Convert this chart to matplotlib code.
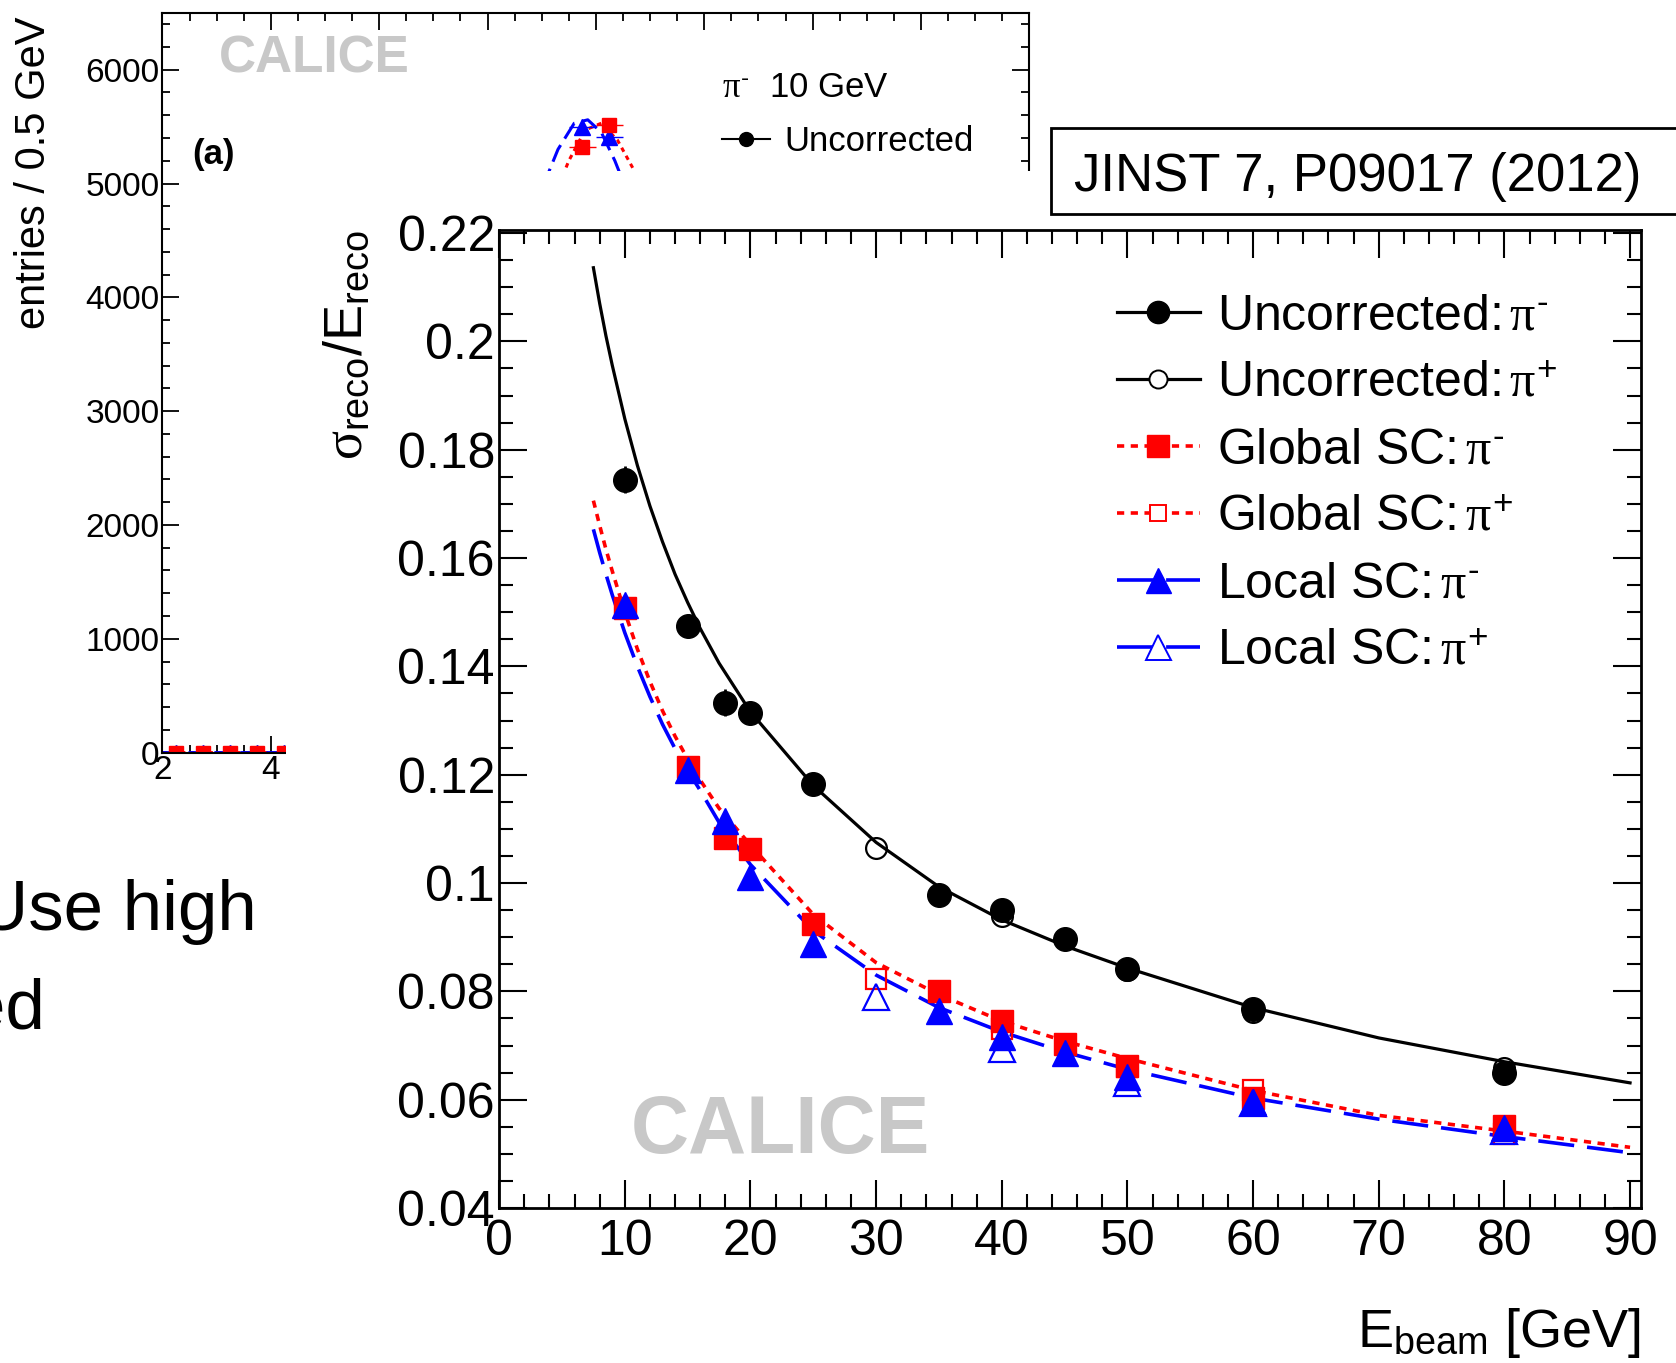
import matplotlib
matplotlib.use('Agg')
import matplotlib.pyplot as plt
from matplotlib.lines import Line2D
from matplotlib.patches import Rectangle
from matplotlib.ticker import MultipleLocator, FuncFormatter

plt.rcParams['font.family'] = ['Liberation Sans', 'DejaVu Sans']
plt.rcParams['mathtext.fontset'] = 'custom'
plt.rcParams['mathtext.rm'] = 'Liberation Sans'
plt.rcParams['mathtext.it'] = 'Liberation Serif'
plt.rcParams['mathtext.bf'] = 'Liberation Sans:bold'

# ---- main chart: resolution vs beam energy ----
energy = [10, 15, 18, 20, 25, 35, 40, 45, 50, 60, 80]
unc_neg = [0.1745, 0.1475, 0.1333, 0.1313, 0.1183, 0.0978, 0.0950, 0.0897, 0.0842, 0.0767, 0.0650]
unc_neg_err = [0.0025, 0.0020, 0.0025, 0.0012, 0.0010, 0.0010, 0.0010, 0.0010, 0.0010, 0.0010, 0.0010]
glob_neg = [0.1508, 0.1215, 0.1084, 0.1063, 0.0925, 0.0800, 0.0745, 0.0702, 0.0662, 0.0603, 0.0552]
loc_neg = [0.1514, 0.1209, 0.1114, 0.1011, 0.0887, 0.0763, 0.0716, 0.0686, 0.0641, 0.0595, 0.0548]

energy_pos = [30, 40, 50, 60, 80]
unc_pos = [0.1065, 0.0940, 0.0840, 0.0762, 0.0658]
glob_pos = [0.0822, 0.0730, 0.0660, 0.0617, 0.0536]
loc_pos = [0.0790, 0.0694, 0.0631, 0.0593, 0.0542]

# fit curves
fit_e = [7.5, 8, 8.5, 9, 10, 11, 12, 13, 14, 15, 16, 17.5, 20, 25, 30, 35, 40, 45, 50, 60, 70, 80, 90]
fit_unc = [0.2136, 0.2070, 0.2010, 0.1956, 0.1857, 0.1771, 0.1696, 0.1630, 0.1570, 0.1518, 0.1470,
           0.1406, 0.1316, 0.1180, 0.1075, 0.0993, 0.0932, 0.0884, 0.0843, 0.0770, 0.0714, 0.0670,
           0.0631]
fit_glob = [0.1706, 0.1660, 0.1616, 0.1576, 0.1500, 0.1432, 0.1372, 0.1318, 0.1271, 0.1229, 0.1190,
            0.1138, 0.1070, 0.0942, 0.0853, 0.0794, 0.0745, 0.0708, 0.0676, 0.0617, 0.0571, 0.0542,
            0.0512]
fit_loc = [0.1653, 0.1610, 0.1570, 0.1532, 0.1462, 0.1400, 0.1344, 0.1293, 0.1248, 0.1208, 0.1171,
           0.1112, 0.1034, 0.0912, 0.0830, 0.0770, 0.0725, 0.0688, 0.0656, 0.0603, 0.0564, 0.0532,
           0.0502]

MINUS = '\u2010'
legend_labels = [r'Uncorrected:$\,\pi^{%s}$' % MINUS, r'Uncorrected:$\,\pi^{+}$',
                 r'Global SC:$\,\pi^{%s}$' % MINUS, r'Global SC:$\,\pi^{+}$',
                 r'Local SC:$\,\pi^{%s}$' % MINUS, r'Local SC:$\,\pi^{+}$']

# ---- background chart (partly hidden): 10 GeV energy distribution ----
bg_bins = [2.25, 2.75, 3.25, 3.75, 4.25, 9.75, 10.25]
bg_glob = [0, 0, 0, 0, 0, 5325, 5510]
bg_loc = [0, 0, 0, 0, 0, 5500, 5410]
bg_unc = [0, 0, 0, 0, 0]
bg_fit_glob_x = [2.0, 4.5, 8.9, 9.2, 9.5, 9.8, 10.1, 10.4, 10.7, 11.0]
bg_fit_glob_y = [0, 0, 4500, 4850, 5200, 5470, 5530, 5380, 5120, 4800]
bg_fit_loc_x = [2.0, 4.5, 8.7, 9.0, 9.3, 9.6, 9.85, 10.1, 10.35, 10.6, 10.9]
bg_fit_loc_y = [0, 0, 4550, 4950, 5300, 5530, 5560, 5450, 5200, 4900, 4500]

RED = '#ff0000'
BLUE = '#0000ff'
GREY = '#c8c8c8'

fig = plt.figure(figsize=(16.76, 13.63), dpi=100)

# background chart
axb = fig.add_axes([0.09694, 0.44784, 0.51722, 0.54275])
axb.set_zorder(0)
axb.set_xlim(2, 18)
axb.set_ylim(0, 6500)
axb.plot(bg_fit_glob_x, bg_fit_glob_y, color=RED, lw=2.2, dashes=(1.5, 1.5))
axb.plot(bg_fit_loc_x, bg_fit_loc_y, color=BLUE, lw=2.2, dashes=(6, 2.5))
axb.plot(bg_bins[:5], bg_unc, 'o', color='k', ms=10)
axb.errorbar(bg_bins, bg_loc, xerr=0.25, fmt='^', color=BLUE, ms=11, elinewidth=1, capsize=0)
axb.errorbar(bg_bins, bg_glob, xerr=0.25, fmt='s', color=RED, ms=10, elinewidth=1, capsize=0)
axb.xaxis.set_major_locator(MultipleLocator(2))
axb.xaxis.set_minor_locator(MultipleLocator(0.5))
axb.yaxis.set_major_locator(MultipleLocator(1000))
axb.yaxis.set_minor_locator(MultipleLocator(200))
axb.tick_params(which='both', direction='in', top=True, right=True, width=1.3, labelsize=24, pad=2)
axb.tick_params(which='major', length=12)
axb.tick_params(which='minor', length=6)
for s in axb.spines.values():
    s.set_linewidth(1.5)
axb.text(0.0654, 0.938, 'CALICE', transform=axb.transAxes, color=GREY, fontsize=37,
         fontweight='bold', ha='left', va='center')
axb.text(0.0345, 0.808, '(a)', transform=axb.transAxes, fontsize=25, fontweight='bold',
         ha='left', va='center')
bg_leg = axb.legend(handles=[Line2D([], [], color='k', lw=1.5, marker='o', ms=10)],
                    labels=['Uncorrected'], title=r'$\pi^{%s}$  10 GeV' % MINUS, alignment='left',
                    frameon=False, loc='upper left', bbox_to_anchor=(0.645, 0.921),
                    fontsize=25, title_fontsize=25, handlelength=1.4, handletextpad=0.4,
                    labelspacing=0.6, borderpad=0, borderaxespad=0)
fig.text(0.0204, 0.9882, 'entries / 0.5 GeV', rotation=90, ha='center', va='top', fontsize=30)

# white sheet carrying the main chart
fig.add_artist(Rectangle((0.1709, 0), 0.9, 0.8745, transform=fig.transFigure,
                         facecolor='white', edgecolor='none', zorder=1))

# slide text left of the chart
fig.text(0.1531, 0.3176, 'Use high', ha='right', va='baseline', fontsize=51)
fig.text(0.0268, 0.2455, 'ed', ha='right', va='baseline', fontsize=51)

# main chart
ax = fig.add_axes([0.29783, 0.11373, 0.68112, 0.71765])
ax.set_zorder(2)
ax.set_xlim(0, 90.85)
ax.set_ylim(0.04, 0.2206)

ax.plot(fit_e, fit_unc, color='k', lw=2.3, zorder=2)
ax.plot(fit_e, fit_glob, color=RED, lw=2.6, dashes=(2.0, 1.8), zorder=2)
ax.plot(fit_e, fit_loc, color=BLUE, lw=2.6, dashes=(10, 3.6), zorder=2)

ax.plot(energy_pos, unc_pos, 'o', mfc='none', mec='k', mew=1.6, ms=15, zorder=3)
ax.errorbar(energy, unc_neg, yerr=unc_neg_err, fmt='o', color='k', ms=17, elinewidth=2,
            capsize=0, zorder=4)
ax.plot(energy, glob_neg, 's', color=RED, ms=16, zorder=5)
ax.plot(energy_pos, glob_pos, 's', mfc='none', mec=RED, mew=1.6, ms=14, zorder=6)
ax.plot(energy, loc_neg, '^', color=BLUE, ms=19, zorder=7)
ax.plot(energy_pos, loc_pos, '^', mfc='none', mec=BLUE, mew=1.6, ms=19, zorder=8)

ax.text(10.5, 0.0540, 'CALICE', color=GREY, fontsize=58, fontweight='bold',
        ha='left', va='center', zorder=1)

ax.xaxis.set_major_locator(MultipleLocator(10))
ax.xaxis.set_minor_locator(MultipleLocator(2))
ax.yaxis.set_major_locator(MultipleLocator(0.02))
ax.yaxis.set_minor_locator(MultipleLocator(0.005))
ax.yaxis.set_major_formatter(FuncFormatter(lambda v, p: f'{v:g}'))
ax.tick_params(which='both', direction='in', top=True, right=True, width=1.5, labelsize=36)
ax.tick_params(which='major', length=20)
ax.tick_params(which='minor', length=10)
ax.tick_params(axis='y', pad=3)
ax.tick_params(axis='x', pad=8)
for s in ax.spines.values():
    s.set_linewidth(2)

handles = [
    Line2D([], [], color='k', lw=2.3, marker='o', ms=16),
    Line2D([], [], color='k', lw=2.3, marker='o', ms=13, mfc='white', mec='k', mew=1.4),
    Line2D([], [], color=RED, lw=2.6, dashes=(2.0, 1.8), marker='s', ms=16),
    Line2D([], [], color=RED, lw=2.6, dashes=(2.0, 1.8), marker='s', ms=12, mfc='white', mec=RED, mew=1.4),
    Line2D([], [], color=BLUE, lw=2.6, dashes=(10, 3.6), marker='^', ms=18),
    Line2D([], [], color=BLUE, lw=2.6, dashes=(10, 3.6), marker='^', ms=18, mfc='white', mec=BLUE, mew=1.4),
]
ax.legend(handles=handles, labels=legend_labels, loc='upper left',
          bbox_to_anchor=(0.6665, 0.785), bbox_transform=fig.transFigure,
          frameon=False, fontsize=36, handlelength=1.65, handletextpad=0.35,
          labelspacing=0.42, borderpad=0, borderaxespad=0)

fig.text(0.2073, 0.8314, r'$\sigma_{\mathrm{reco}}/\mathrm{E}_{\mathrm{reco}}$', rotation=90,
         ha='center', va='top', fontsize=39, zorder=3)
fig.text(0.979, 0.022, r'$\mathrm{E}_{\mathrm{beam}}$ [GeV]', ha='right', va='center',
         fontsize=39, zorder=3)

# citation box
fig.add_artist(Rectangle((0.6269, 0.8431), 0.5, 0.0628, transform=fig.transFigure,
                         facecolor='white', edgecolor='k', lw=2, zorder=3))
fig.text(0.641, 0.8705, 'JINST 7, P09017 (2012)', ha='left', va='center', fontsize=38, zorder=4)

fig.savefig('out.png', dpi=100)
